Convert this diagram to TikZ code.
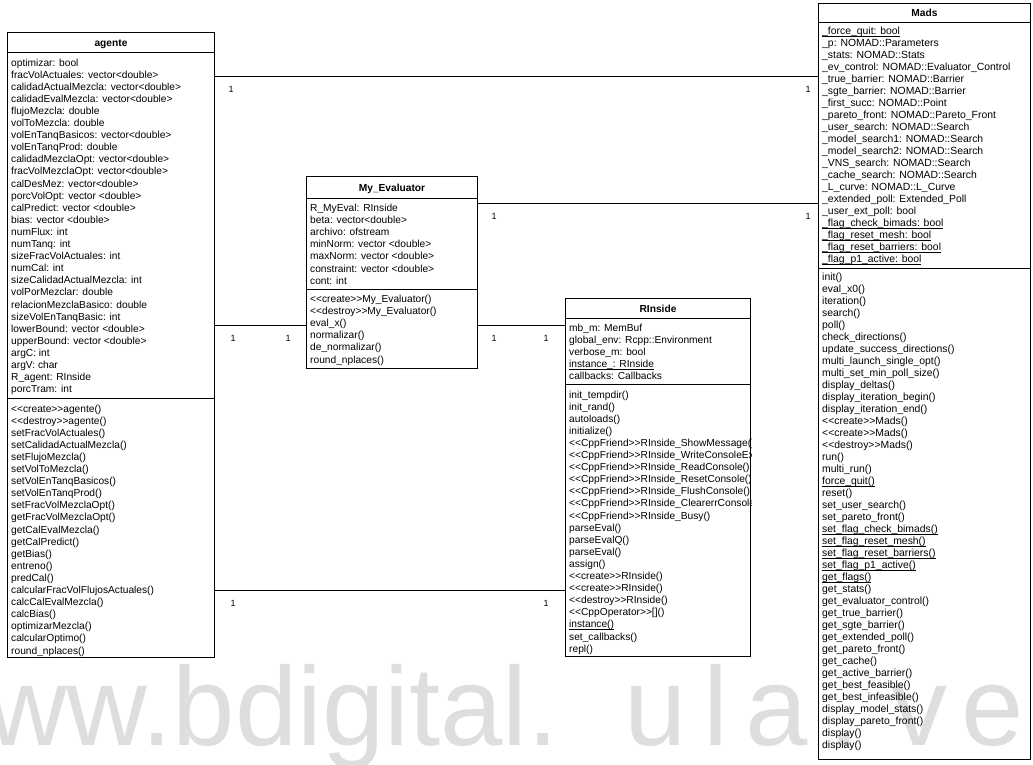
\documentclass[tikz,border=0pt]{standalone}
\usepackage{fontspec}
\setmainfont{Liberation Sans}[Ligatures=TeXOff]
\usetikzlibrary{calc}

% row font of the class compartments
\newcommand{\rowfont}{\fontsize{10.2}{12.1}\selectfont}
% underline set close to the baseline, without extra depth
\newcommand{\ulined}[1]{\setbox0=\hbox{#1}\rlap{\rule[-1.6pt]{\wd0}{0.55pt}}\box0}

\begin{document}
\begin{tikzpicture}[x=1pt,y=-1pt,
  classbox/.style={draw=black, line width=1pt, inner sep=0pt, anchor=north west},
  titletext/.style={font=\rowfont\bfseries, inner sep=0pt, anchor=base},
  rowstext/.style={font=\rowfont, inner sep=0pt, anchor=base west},
  divider/.style={line width=0.9pt},
  assoc/.style={line width=0.8pt},
  mult/.style={font=\fontsize{9}{10}\selectfont, inner sep=0pt},
  watermark/.style={font=\fontsize{112}{112}\selectfont, text=black!13, inner sep=0pt, anchor=base west}
]
\useasboundingbox (0,0) rectangle (1033,764);

% faint watermark along the bottom
\node[watermark] (wm) at (-95,745) {www.bdigital.\hspace{66pt}u\hspace{17pt}l\hspace{17pt}a\hspace{20pt}.\hspace{32pt}v\hspace{14pt}e};

% ---------------- agente ----------------
\node[classbox, minimum width=207pt, minimum height=625pt] (agente) at (7,32) {};
\node[titletext] (agente-title) at ($(agente.north)+(0,14)$) {agente};
\draw[divider] ($(agente.north west)+(0,20)$) -- ($(agente.north east)+(0,20)$);
\node[rowstext] (agente-attrs) at ($(agente.north west)+(4,34)$) {\begin{tabular}[t]{@{}l@{}}
optimizar: bool\\
fracVolActuales: vector<double>\\
calidadActualMezcla: vector<double>\\
calidadEvalMezcla: vector<double>\\
flujoMezcla: double\\
volToMezcla: double\\
volEnTanqBasicos: vector<double>\\
volEnTanqProd: double\\
calidadMezclaOpt: vector<double>\\
fracVolMezclaOpt: vector<double>\\
calDesMez: vector<double>\\
porcVolOpt: vector <double>\\
calPredict: vector <double>\\
bias: vector <double>\\
numFlux: int\\
numTanq: int\\
sizeFracVolActuales: int\\
numCal: int\\
sizeCalidadActualMezcla: int\\
volPorMezclar: double\\
relacionMezclaBasico: double\\
sizeVolEnTanqBasic: int\\
lowerBound: vector <double>\\
upperBound: vector <double>\\
argC: int\\
argV: char\\
R\_agent: RInside\\
porcTram: int
\end{tabular}};
\draw[divider] ($(agente.north west)+(0,366)$) -- ($(agente.north east)+(0,366)$);
\node[rowstext] (agente-ops) at ($(agente.north west)+(4,380)$) {\begin{tabular}[t]{@{}l@{}}
<<create>>agente()\\
<<destroy>>agente()\\
setFracVolActuales()\\
setCalidadActualMezcla()\\
setFlujoMezcla()\\
setVolToMezcla()\\
setVolEnTanqBasicos()\\
setVolEnTanqProd()\\
setFracVolMezclaOpt()\\
getFracVolMezclaOpt()\\
getCalEvalMezcla()\\
getCalPredict()\\
getBias()\\
entreno()\\
predCal()\\
calcularFracVolFlujosActuales()\\
calcCalEvalMezcla()\\
calcBias()\\
optimizarMezcla()\\
calcularOptimo()\\
round\_nplaces()
\end{tabular}};

% ---------------- My_Evaluator ----------------
\node[classbox, minimum width=171pt, minimum height=192pt] (myeval) at (306,176) {};
\node[titletext] (myeval-title) at ($(myeval.north)+(0,15)$) {My\_Evaluator};
\draw[divider] ($(myeval.north west)+(0,22)$) -- ($(myeval.north east)+(0,22)$);
\node[rowstext] (myeval-attrs) at ($(myeval.north west)+(4,35.5)$) {\begin{tabular}[t]{@{}l@{}}
R\_MyEval: RInside\\
beta: vector<double>\\
archivo: ofstream\\
minNorm: vector <double>\\
maxNorm: vector <double>\\
constraint: vector <double>\\
cont: int
\end{tabular}};
\draw[divider] ($(myeval.north west)+(0,113)$) -- ($(myeval.north east)+(0,113)$);
\node[rowstext] (myeval-ops) at ($(myeval.north west)+(4,126.5)$) {\begin{tabular}[t]{@{}l@{}}
<<create>>My\_Evaluator()\\
<<destroy>>My\_Evaluator()\\
eval\_x()\\
normalizar()\\
de\_normalizar()\\
round\_nplaces()
\end{tabular}};

% ---------------- RInside ----------------
\node[classbox, minimum width=185pt, minimum height=358pt] (rinside) at (565,298) {};
\node[titletext] (rinside-title) at ($(rinside.north)+(0,14.5)$) {RInside};
\draw[divider] ($(rinside.north west)+(0,20)$) -- ($(rinside.north east)+(0,20)$);
\begin{scope}
\clip (rinside.north west) rectangle (rinside.south east);
\node[rowstext] (rinside-attrs) at ($(rinside.north west)+(4,33.5)$) {\begin{tabular}[t]{@{}l@{}}
mb\_m: MemBuf\\
global\_env: Rcpp::Environment\\
verbose\_m: bool\\
\ulined{instance\_: RInside}\\
callbacks: Callbacks
\end{tabular}};
\node[rowstext] (rinside-ops) at ($(rinside.north west)+(4,100)$) {\begin{tabular}[t]{@{}l@{}}
init\_tempdir()\\
init\_rand()\\
autoloads()\\
initialize()\\
<<CppFriend>>RInside\_ShowMessage()\\
<<CppFriend>>RInside\_WriteConsoleEx()\\
<<CppFriend>>RInside\_ReadConsole()\\
<<CppFriend>>RInside\_ResetConsole()\\
<<CppFriend>>RInside\_FlushConsole()\\
<<CppFriend>>RInside\_ClearerrConsole()\\
<<CppFriend>>RInside\_Busy()\\
parseEval()\\
parseEvalQ()\\
parseEval()\\
assign()\\
<<create>>RInside()\\
<<create>>RInside()\\
<<destroy>>RInside()\\
<<CppOperator>>[]()\\
\ulined{instance()}\\
set\_callbacks()\\
repl()
\end{tabular}};
\end{scope}
\draw[divider] ($(rinside.north west)+(0,86.5)$) -- ($(rinside.north east)+(0,86.5)$);

% ---------------- Mads ----------------
\node[classbox, minimum width=212pt, minimum height=756pt] (mads) at (818,3) {};
\node[titletext] (mads-title) at ($(mads.north)+(0,13.5)$) {Mads};
\draw[divider] ($(mads.north west)+(0,19)$) -- ($(mads.north east)+(0,19)$);
\node[rowstext] (mads-attrs) at ($(mads.north west)+(4,31.5)$) {\fontsize{10.4}{12}\selectfont\begin{tabular}[t]{@{}l@{}}
\ulined{\_force\_quit: bool}\\
\_p: NOMAD::Parameters\\
\_stats: NOMAD::Stats\\
\_ev\_control: NOMAD::Evaluator\_Control\\
\_true\_barrier: NOMAD::Barrier\\
\_sgte\_barrier: NOMAD::Barrier\\
\_first\_succ: NOMAD::Point\\
\_pareto\_front: NOMAD::Pareto\_Front\\
\_user\_search: NOMAD::Search\\
\_model\_search1: NOMAD::Search\\
\_model\_search2: NOMAD::Search\\
\_VNS\_search: NOMAD::Search\\
\_cache\_search: NOMAD::Search\\
\_L\_curve: NOMAD::L\_Curve\\
\_extended\_poll: Extended\_Poll\\
\_user\_ext\_poll: bool\\
\ulined{\_flag\_check\_bimads: bool}\\
\ulined{\_flag\_reset\_mesh: bool}\\
\ulined{\_flag\_reset\_barriers: bool}\\
\ulined{\_flag\_p1\_active: bool}
\end{tabular}};
\draw[divider] ($(mads.north west)+(0,265)$) -- ($(mads.north east)+(0,265)$);
\node[rowstext] (mads-ops) at ($(mads.north west)+(4,277.5)$) {\fontsize{10.4}{12}\selectfont\begin{tabular}[t]{@{}l@{}}
init()\\
eval\_x0()\\
iteration()\\
search()\\
poll()\\
check\_directions()\\
update\_success\_directions()\\
multi\_launch\_single\_opt()\\
multi\_set\_min\_poll\_size()\\
display\_deltas()\\
display\_iteration\_begin()\\
display\_iteration\_end()\\
<<create>>Mads()\\
<<create>>Mads()\\
<<destroy>>Mads()\\
run()\\
multi\_run()\\
\ulined{force\_quit()}\\
reset()\\
set\_user\_search()\\
set\_pareto\_front()\\
\ulined{set\_flag\_check\_bimads()}\\
\ulined{set\_flag\_reset\_mesh()}\\
\ulined{set\_flag\_reset\_barriers()}\\
\ulined{set\_flag\_p1\_active()}\\
\ulined{get\_flags()}\\
get\_stats()\\
get\_evaluator\_control()\\
get\_true\_barrier()\\
get\_sgte\_barrier()\\
get\_extended\_poll()\\
get\_pareto\_front()\\
get\_cache()\\
get\_active\_barrier()\\
get\_best\_feasible()\\
get\_best\_infeasible()\\
display\_model\_stats()\\
display\_pareto\_front()\\
display()\\
display()
\end{tabular}};

% ---------------- associations ----------------
\coordinate (h1) at (0,76);
\coordinate (h2) at (0,203);
\coordinate (h3) at (0,325);
\coordinate (h4) at (0,590);

\draw[assoc] (agente.east |- h1) -- (mads.west |- h1)
  node[mult, at start, xshift=16pt, yshift=-13pt] (m1a) {1}
  node[mult, at end, xshift=-10pt, yshift=-13pt] (m1b) {1};
\draw[assoc] (myeval.east |- h2) -- (mads.west |- h2)
  node[mult, at start, xshift=16pt, yshift=-13pt] (m2a) {1}
  node[mult, at end, xshift=-10pt, yshift=-13pt] (m2b) {1};
\draw[assoc] (agente.east |- h3) -- (myeval.west |- h3)
  node[mult, at start, xshift=18pt, yshift=-13pt] (m3a) {1}
  node[mult, at end, xshift=-18pt, yshift=-13pt] (m3b) {1};
\draw[assoc] (myeval.east |- h3) -- (rinside.west |- h3)
  node[mult, at start, xshift=16pt, yshift=-13pt] (m4a) {1}
  node[mult, at end, xshift=-19pt, yshift=-13pt] (m4b) {1};
\draw[assoc] (agente.east |- h4) -- (rinside.west |- h4)
  node[mult, at start, xshift=18pt, yshift=-13pt] (m5a) {1}
  node[mult, at end, xshift=-19pt, yshift=-13pt] (m5b) {1};
\end{tikzpicture}
\end{document}
